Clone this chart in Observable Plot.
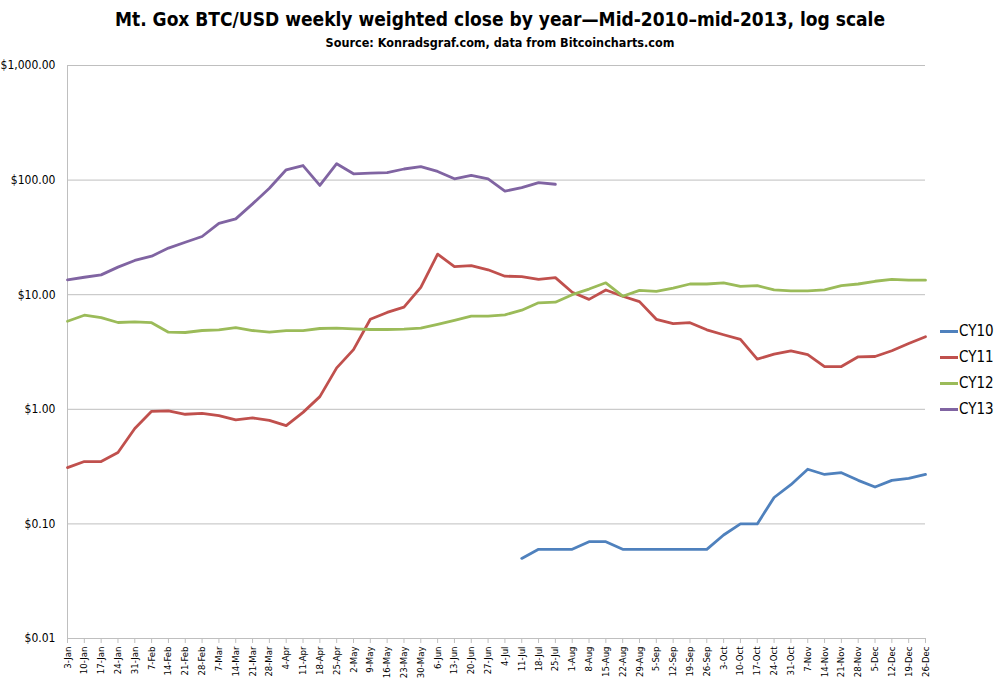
<!DOCTYPE html>
<html>
<head>
<meta charset="utf-8">
<script src="https://cdn.jsdelivr.net/npm/d3@7"></script>
<script src="https://cdn.jsdelivr.net/npm/@observablehq/plot@0.6"></script>
<style>
  html, body { margin: 0; padding: 0; background: #fff; }
  body { width: 1000px; height: 679px; position: relative; overflow: hidden; font-family: "DejaVu Sans Condensed", sans-serif; }
  #title { position: absolute; top: 8px; left: 0; width: 1000px; text-align: center; font-weight: bold; font-size: 19px; color: #000; }
  #subtitle { position: absolute; top: 35px; left: 0; width: 1000px; text-align: center; font-weight: bold; font-size: 12.5px; color: #000; }
  #chart { position: absolute; top: 52px; left: 0; }
  #legend { position: absolute; left: 940px; top: 318px; font-size: 15px; color: #000; }
  .item { display: flex; align-items: center; height: 26px; }
  .sw { width: 18px; height: 3px; margin-right: 1px; }
</style>
</head>
<body>
<div id="title">Mt. Gox BTC/USD weekly weighted close by year—Mid-2010–mid-2013, log scale</div>
<div id="subtitle">Source: Konradsgraf.com, data from Bitcoincharts.com</div>
<div id="chart"></div>
<div id="legend"></div>
<script>
const weeks = ["3-Jan","10-Jan","17-Jan","24-Jan","31-Jan","7-Feb","14-Feb","21-Feb","28-Feb","7-Mar","14-Mar","21-Mar","28-Mar","4-Apr","11-Apr","18-Apr","25-Apr","2-May","9-May","16-May","23-May","30-May","6-Jun","13-Jun","20-Jun","27-Jun","4-Jul","11-Jul","18-Jul","25-Jul","1-Aug","8-Aug","15-Aug","22-Aug","29-Aug","5-Sep","12-Sep","19-Sep","26-Sep","3-Oct","10-Oct","17-Oct","24-Oct","31-Oct","7-Nov","14-Nov","21-Nov","28-Nov","5-Dec","12-Dec","19-Dec","26-Dec"];

const cy10 = [null,null,null,null,null,null,null,null,null,null,null,null,null,null,null,null,null,null,null,null,null,null,null,null,null,null,null,
  0.05,0.06,0.06,0.06,0.07,0.07,0.06,0.06,0.06,0.06,0.06,0.06,0.08,0.10,0.10,0.17,0.22,0.30,0.27,0.28,0.24,0.21,0.24,0.25,0.27];
const cy11 = [0.31,0.35,0.35,0.42,0.68,0.96,0.97,0.905,0.92,0.88,0.81,0.84,0.80,0.72,0.94,1.29,2.30,3.32,6.1,7.0,7.8,11.6,22.6,17.6,17.9,16.5,14.5,14.4,13.6,14.1,10.5,9.1,11.0,9.7,8.7,6.1,5.6,5.7,4.94,4.47,4.07,2.74,3.03,3.24,3.0,2.36,2.36,2.87,2.89,3.24,3.75,4.30];
const cy12 = [5.87,6.62,6.32,5.72,5.8,5.7,4.71,4.68,4.87,4.94,5.17,4.87,4.71,4.85,4.85,5.07,5.1,5.03,4.97,4.97,5.0,5.1,5.5,5.96,6.49,6.49,6.68,7.33,8.5,8.6,10.0,11.2,12.7,9.7,10.9,10.7,11.4,12.4,12.4,12.7,11.8,12.0,11.0,10.8,10.8,11.0,12.0,12.4,13.1,13.6,13.4,13.4];
const cy13 = [13.5,14.2,14.9,17.4,19.9,21.7,25.5,28.7,32.2,42,45.9,62,85,123,134,89.8,139,113.5,115,116,125,131,119,102.6,110,102.6,80,86,95,92];

const seriesNames = ["CY10","CY11","CY12","CY13"];
const seriesColors = ["#4f81bd","#c0504d","#9bbb59","#8064a2"];
const yTicks = [0.01, 0.1, 1, 10, 100, 1000];

const allSeries = [cy10, cy11, cy12, cy13];
const rows = [];
allSeries.forEach((arr, s) => {
  weeks.forEach((w, i) => {
    rows.push({week: w, series: seriesNames[s], value: i < arr.length ? arr[i] : null});
  });
});

const fmt = d3.format("$,.2f");

const chart = Plot.plot({
  width: 1000,
  height: 627,
  marginTop: 13,
  marginBottom: 41,
  marginLeft: 67,
  marginRight: 75,
  style: { fontFamily: "'DejaVu Sans Condensed', sans-serif", background: "#fff", color: "#000" },
  x: { type: "point", domain: weeks, padding: 0 },
  y: { type: "log", domain: [0.01, 1000] },
  color: { domain: seriesNames, range: seriesColors },
  marks: [
    Plot.ruleY(yTicks, { stroke: "#bfbfbf", strokeWidth: 1 }),
    Plot.ruleX([weeks[0]], { stroke: "#bfbfbf", strokeWidth: 1 }),
    Plot.axisY({ ticks: yTicks, tickFormat: fmt, tickSize: 0, tickPadding: 12, fontSize: 12, label: null }),
    Plot.axisX({ tickRotate: -90, tickSize: 5, tickPadding: 3, fontSize: 9.5, label: null, stroke: "#bfbfbf" }),
    Plot.line(rows, {
      x: "week", y: "value", z: "series", stroke: "series",
      strokeWidth: 2.8, defined: d => d.value != null,
      strokeLinejoin: "round", strokeLinecap: "round"
    })
  ]
});
document.getElementById("chart").appendChild(chart);

const legend = document.getElementById("legend");
seriesNames.forEach((n, i) => {
  const it = document.createElement("div");
  it.className = "item";
  it.innerHTML = `<span class="sw" style="background:${seriesColors[i]}"></span><span>${n}</span>`;
  legend.appendChild(it);
});
</script>
</body>
</html>
